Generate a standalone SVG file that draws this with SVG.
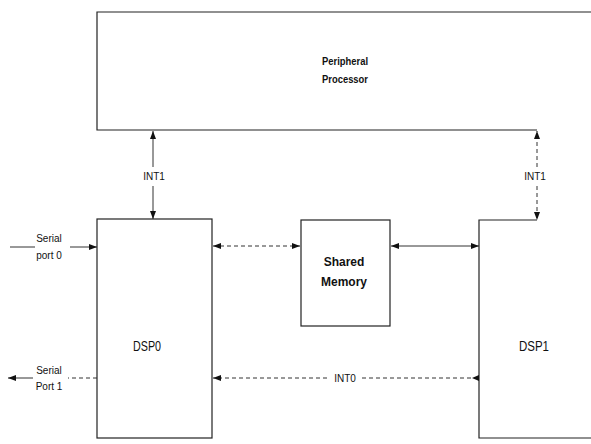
<svg xmlns="http://www.w3.org/2000/svg" width="591" height="444" viewBox="0 0 591 444">
<style>
.box{fill:none;stroke:#222;stroke-width:1.2}
.ln{fill:none;stroke:#333;stroke-width:1}
.dash{stroke-dasharray:4 3}
.t{font-family:"Liberation Sans",Arial,sans-serif;fill:#111}
.s{font-size:10px}
.b{font-weight:bold}
</style>
<defs>
<marker id="ah" viewBox="0 0 8 6" refX="8" refY="3" markerWidth="8" markerHeight="6" orient="auto-start-reverse" markerUnits="userSpaceOnUse">
<path d="M0,0 L8,3 L0,6 z" fill="#111"/>
</marker>
</defs>
<rect width="591" height="444" fill="#fff"/>
<g id="peripheral">
<path class="box" d="M591 12 H97 V130 H537"/>
<text class="t b" x="322" y="65" font-size="11" textLength="46" lengthAdjust="spacingAndGlyphs">Peripheral</text>
<text class="t b" x="322" y="83" font-size="11" textLength="46" lengthAdjust="spacingAndGlyphs">Processor</text>
</g>
<g id="dsp0">
<rect class="box" x="97" y="219" width="115" height="219"/>
<text class="t" x="147" y="351" font-size="14" text-anchor="middle" textLength="28" lengthAdjust="spacingAndGlyphs">DSP0</text>
</g>
<g id="shared-memory">
<rect class="box" x="301" y="220" width="89" height="106"/>
<text class="t b" x="344" y="266" font-size="12" text-anchor="middle">Shared</text>
<text class="t b" x="344" y="286" font-size="12" text-anchor="middle">Memory</text>
</g>
<g id="dsp1">
<path class="box" d="M537 220 H479 V438 H591"/>
<text class="t" x="534" y="351" font-size="14" text-anchor="middle" textLength="30" lengthAdjust="spacingAndGlyphs">DSP1</text>
</g>
<g id="connectors">
<path class="ln" d="M153 167 V131" marker-end="url(#ah)"/>
<path class="ln" d="M153 186 V219" marker-end="url(#ah)"/>
<path class="ln dash" d="M537 167 V131" marker-end="url(#ah)"/>
<path class="ln dash" d="M537 186 V220" marker-end="url(#ah)"/>
<path class="ln" d="M10 247 H35"/>
<path class="ln" d="M70 247 H97" marker-end="url(#ah)"/>
<path class="ln" d="M33 378 H8" marker-end="url(#ah)"/>
<path class="ln dash" d="M97 378 H68"/>
<path class="ln dash" d="M213 246 H300" marker-start="url(#ah)" marker-end="url(#ah)"/>
<path class="ln" d="M391 246 H479" marker-start="url(#ah)" marker-end="url(#ah)"/>
<path class="ln dash" d="M327 378 H213" marker-end="url(#ah)"/>
<path class="ln dash" d="M471 378 H362"/>
<path d="M479 375 L472 378 L479 381 z" fill="#111"/>
</g>
<g id="labels">
<text class="t s" x="154" y="180" text-anchor="middle">INT1</text>
<text class="t s" x="535" y="180" text-anchor="middle">INT1</text>
<text class="t s" x="49" y="242" text-anchor="middle">Serial</text>
<text class="t s" x="49" y="259" text-anchor="middle">port 0</text>
<text class="t s" x="49" y="374" text-anchor="middle">Serial</text>
<text class="t s" x="49" y="390" text-anchor="middle">Port 1</text>
<text class="t s" x="345" y="382" text-anchor="middle">INT0</text>
</g>
</svg>
